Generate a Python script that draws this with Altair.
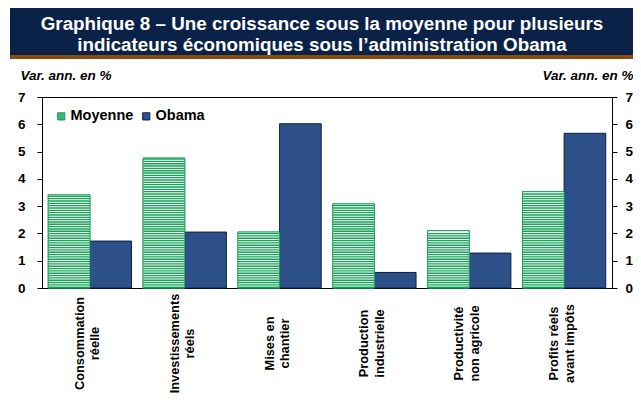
import altair as alt
import pandas as pd

# ---------------- data ----------------
categories = [
    "Consommation|réelle",
    "Investissements|réels",
    "Mises en|chantier",
    "Production|industrielle",
    "Productivité|non agricole",
    "Profits réels|avant impôts",
]
series = ["Moyenne", "Obama"]
moyenne = [3.41, 4.76, 2.05, 3.08, 2.10, 3.53]
obama = [1.72, 2.05, 6.02, 0.57, 1.28, 5.67]
y_ticks = [0, 1, 2, 3, 4, 5, 6, 7]
title_lines = [
    "Graphique 8 – Une croissance sous la moyenne pour plusieurs",
    "indicateurs économiques sous l’administration Obama",
]
unit_label = "Var. ann. en %"

# ---------------- style ----------------
W, H = 570, 191
FONT = "Liberation Sans"
GREEN = "#14a257"
GREEN_LEGEND = "#3fb572"
NAVY_BAR = "#2e5088"
NAVY_EDGE = "#0d1f4a"
BAND = "#0b2248"
BROWN = "#8a4a0c"
PX_PER_UNIT = H / 7.0
STRIPE_START = 0.8 / PX_PER_UNIT
STRIPE_STEP = 2.33 / PX_PER_UNIT   # hatch period ~2.3 px

rows = []
for c, m, o in zip(categories, moyenne, obama):
    rows.append({"cat": c, "series": "Moyenne", "value": m})
    rows.append({"cat": c, "series": "Obama", "value": o})
df = pd.DataFrame(rows)

x_enc = alt.X(
    "cat:N",
    sort=categories,
    scale=alt.Scale(domain=categories, paddingInner=0.122, paddingOuter=0.066),
    axis=alt.Axis(
        title=None, labelAngle=-90, labelAlign="center", labelBaseline="middle",
        labelExpr="split(datum.label, '|')", labelFont=FONT, labelFontSize=12.8,
        labelFontWeight="bold", labelColor="black", labelLineHeight=15.5,
        labelPadding=55, labelOffset=-10, ticks=False, tickSize=0,
        domainColor="black", labelLimit=0,
    ),
)
xoff_enc = alt.XOffset("series:N", scale=alt.Scale(domain=series, paddingInner=0, paddingOuter=0))


def y_enc(field, axis):
    return alt.Y(field, scale=alt.Scale(domain=[0, 7], nice=False), axis=axis)


common_axis = dict(
    values=y_ticks, grid=False, tickSize=5, tickColor="black", domainColor="black",
    labelFont=FONT, labelFontSize=13.5, labelFontWeight="bold", labelColor="black",
    title=unit_label, titleAngle=0, titleFont=FONT, titleFontSize=13.5,
    titleFontWeight="bold", titleFontStyle="italic", titleColor="black",
    titleBaseline="alphabetic", titleY=-18,
)
left_axis = alt.Axis(orient="left", labelPadding=12, titleX=-22, titleAlign="left", **common_axis)
right_axis = alt.Axis(orient="right", labelPadding=8, titleX=21, titleAlign="right", **common_axis)

bars = alt.Chart(df).mark_bar(strokeWidth=1).encode(
    x=x_enc,
    xOffset=xoff_enc,
    y=y_enc("value:Q", left_axis),
    color=alt.Color(
        "series:N",
        scale=alt.Scale(domain=series, range=[GREEN_LEGEND, NAVY_BAR]),
        legend=alt.Legend(
            orient="none", legendX=12, legendY=12, direction="horizontal", title=None,
            symbolType="square", symbolSize=52, labelFont=FONT, labelFontSize=14.5,
            labelFontWeight="bold", labelColor="black", columnPadding=5, labelOffset=2,
            padding=0, symbolStrokeWidth=1,
        ),
    ),
    stroke=alt.Stroke("series:N", scale=alt.Scale(domain=series, range=[GREEN, NAVY_EDGE]), legend=None),
)

right = alt.Chart(df).mark_bar(opacity=0).encode(
    x=x_enc, xOffset=xoff_enc, y=y_enc("value:Q", right_axis)
)

moy = alt.Chart(df).transform_filter(alt.datum.series == "Moyenne")

# white ground of the hatched bars
moy_ground = moy.mark_bar(fill="white", stroke=GREEN, strokeWidth=1).encode(
    x=x_enc, xOffset=xoff_enc, y=y_enc("value:Q", None)
)

# horizontal hatch lines inside the "Moyenne" bars
hatch = (
    moy.transform_calculate(
        stripe=f"sequence({STRIPE_START}, datum.value - {0.8 / PX_PER_UNIT}, {STRIPE_STEP})"
    )
    .transform_flatten(["stripe"])
    .mark_tick(color=GREEN, thickness=1.35, size=41, opacity=1)
    .encode(x=x_enc, xOffset=xoff_enc, y=y_enc("stripe:Q", None))
)

# title band
one = alt.Data(values=[{"k": 1}])
band = alt.Chart(one).mark_rect(color=BAND).encode(
    x=alt.value(-32), x2=alt.value(620), y=alt.value(-89), y2=alt.value(-42)
)
strip = alt.Chart(one).mark_rect(color=BROWN).encode(
    x=alt.value(-32), x2=alt.value(620), y=alt.value(-42), y2=alt.value(-38)
)
title = alt.Chart(one).mark_text(
    text=title_lines, font=FONT, fontSize=18.8, fontWeight="bold", color="white",
    align="center", baseline="middle", lineHeight=20.5,
).encode(x=alt.value(280), y=alt.value(-73))

chart = (
    alt.layer(band, strip, title, bars, right, moy_ground, hatch)
    .resolve_scale(y="independent")
    .properties(
        width=W, height=H,
        autosize=alt.AutoSizeParams(type="none"),
        padding={"left": 34, "top": 89, "right": 21, "bottom": 106},
        background="white",
    )
    .configure(font=FONT)
    .configure_view(stroke="black", strokeWidth=1)
)

chart.save("out.html", embed_options={"renderer": "svg", "actions": False})
